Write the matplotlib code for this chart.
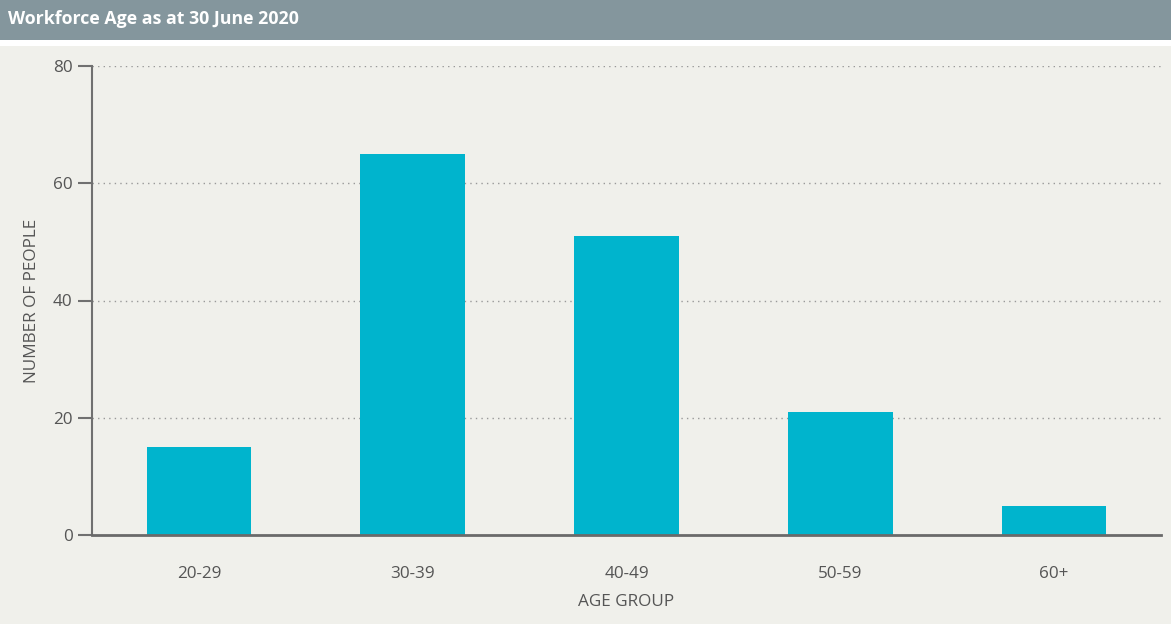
import matplotlib
matplotlib.use("Agg")
import matplotlib.pyplot as plt
from matplotlib.patches import Rectangle

categories = ["20-29", "30-39", "40-49", "50-59", "60+"]
values = [15, 65, 51, 21, 5]
yticks = [0, 20, 40, 60, 80]

plt.rcParams['font.family'] = ['Open Sans', 'DejaVu Sans']

W, H = 1171, 624
fig = plt.figure(figsize=(W/100, H/100), dpi=100)
fig.patch.set_facecolor('#f0f0eb')

# title bar
fig.patches.append(Rectangle((0, 1 - 40/H), 1, 40/H, transform=fig.transFigure,
                             facecolor='#84969d', edgecolor='none', zorder=0))
fig.patches.append(Rectangle((0, 1 - 46/H), 1, 6/H, transform=fig.transFigure,
                             facecolor='white', edgecolor='none', zorder=0))
fig.text(8/W, 1 - 19/H, "Workforce Age as at 30 June 2020", color='white',
         fontsize=12.8, fontweight='bold', va='center', ha='left')

ax = fig.add_axes([92/W, 1 - 535/H, (1161-92)/W, (535-66)/H])
ax.set_facecolor('#f0f0eb')
x = list(range(len(categories)))
ax.bar(x, values, width=0.49, color='#00b4cd', zorder=2)
ax.set_xlim(-0.5, 4.5)
ax.set_ylim(0, 80)
ax.set_yticks(yticks)
ax.set_xticks(x)
ax.set_xticklabels(categories)
for s in ['top', 'right']:
    ax.spines[s].set_visible(False)
ax.spines['left'].set_color('#707070')
ax.spines['left'].set_linewidth(1.5)
ax.spines['bottom'].set_color('#6a6a6a')
ax.spines['bottom'].set_linewidth(2)
ax.spines['bottom'].set_zorder(3)
ax.tick_params(axis='y', length=10, width=1.5, color='#707070', labelcolor='#555555',
               labelsize=12.3, pad=4)
ax.tick_params(axis='x', length=0, labelcolor='#555555', labelsize=12.3, pad=22)
for yv in yticks[1:]:
    ax.axhline(yv, color='#999999', linestyle=(0, (1, 3)), linewidth=1, zorder=1)
ax.set_xlabel("AGE GROUP", color='#555555', fontsize=12.3, labelpad=9)
ax.set_ylabel("NUMBER OF PEOPLE", color='#555555', fontsize=12.3, labelpad=9)

fig.savefig("out.png", dpi=100, facecolor=fig.get_facecolor())
